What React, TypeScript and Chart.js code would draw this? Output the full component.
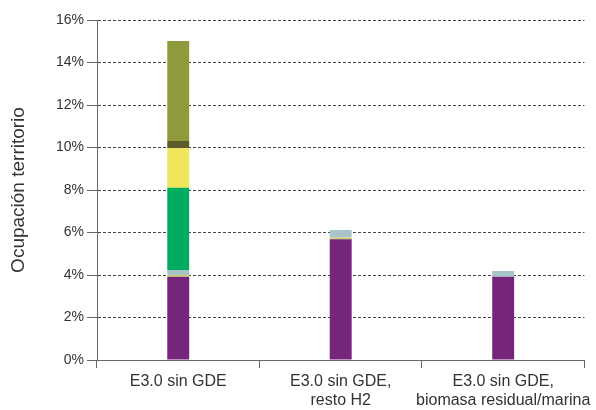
import React, { useEffect, useRef } from "react";
import { Chart, registerables } from "chart.js";

Chart.register(...registerables);

const categories: (string | string[])[] = [
  "E3.0 sin GDE",
  ["E3.0 sin GDE,", "resto H2"],
  ["E3.0 sin GDE,", "biomasa residual/marina"],
];

const purpleValues = [3.92, 5.68, 3.92];
const limeValues = [0.08, 0.08, 0];
const greyValues = [0.24, 0.36, 0.27];
const greenValues = [3.87, 0, 0];
const yellowValues = [1.85, 0, 0];
const darkOliveValues = [0.35, 0, 0];
const oliveValues = [4.7, 0, 0];

const yTicks = [0, 2, 4, 6, 8, 10, 12, 14, 16];

const FONT = "'Liberation Sans', Arial, sans-serif";

export default function App() {
  const ref = useRef<HTMLCanvasElement | null>(null);

  useEffect(() => {
    document.body.style.margin = "0";
    const canvas = ref.current;
    if (!canvas) return;
    const mk = (label: string, data: number[], color: string) => ({
      label,
      data,
      backgroundColor: color,
      borderWidth: 0,
      stack: "s",
      barPercentage: 0.135,
      categoryPercentage: 1,
    });
    const chart = new Chart(canvas, {
      type: "bar",
      data: {
        labels: categories,
        datasets: [
          mk("A", purpleValues, "#76267a"),
          mk("B", limeValues, "#c9d36a"),
          mk("C", greyValues, "#a9c4c9"),
          mk("D", greenValues, "#00ad60"),
          mk("E", yellowValues, "#efe65a"),
          mk("F", darkOliveValues, "#5d5a2c"),
          mk("G", oliveValues, "#8e9a3b"),
        ],
      },
      options: {
        responsive: false,
        animation: false,
        layout: { padding: { top: 20, right: 10, left: 0, bottom: 0 } },
        plugins: { legend: { display: false }, tooltip: { enabled: false } },
        scales: {
          x: {
            stacked: true,
            border: { display: true, color: "#666", width: 1 },
            grid: {
              display: true,
              drawOnChartArea: false,
              drawTicks: true,
              tickLength: 8,
              tickColor: "#666",
              offset: true,
            },
            ticks: {
              color: "#333",
              font: { family: FONT, size: 16 },
              padding: 4,
              maxRotation: 0,
              autoSkip: false,
            },
            afterFit: (s: any) => {
              s.height = 50;
            },
          },
          y: {
            stacked: true,
            min: 0,
            max: 16,
            afterBuildTicks: (s: any) => {
              s.ticks = yTicks.map((v) => ({ value: v }));
            },
            border: { display: true, color: "#666", width: 1, dash: [3, 2] },
            grid: {
              color: "#444",
              lineWidth: 1,
              drawTicks: true,
              tickLength: 10,
              tickColor: "#666",
              tickBorderDash: [],
            } as any,
            ticks: {
              color: "#333",
              font: { family: FONT, size: 14 },
              padding: 3,
              callback: (v: any) => v + "%",
            },
            title: {
              display: true,
              text: "Ocupación territorio",
              color: "#333",
              font: { family: FONT, size: 19 },
              padding: { top: 7, bottom: 0 },
            },
            afterFit: (s: any) => {
              s.width = 97;
            },
          },
        },
      },
    } as any);
    return () => chart.destroy();
  }, []);

  return (
    <div style={{ position: "absolute", left: 0, top: 0, width: 596, height: 410 }}>
      <canvas ref={ref} width={596} height={410} style={{ width: 596, height: 410 }} />
    </div>
  );
}
